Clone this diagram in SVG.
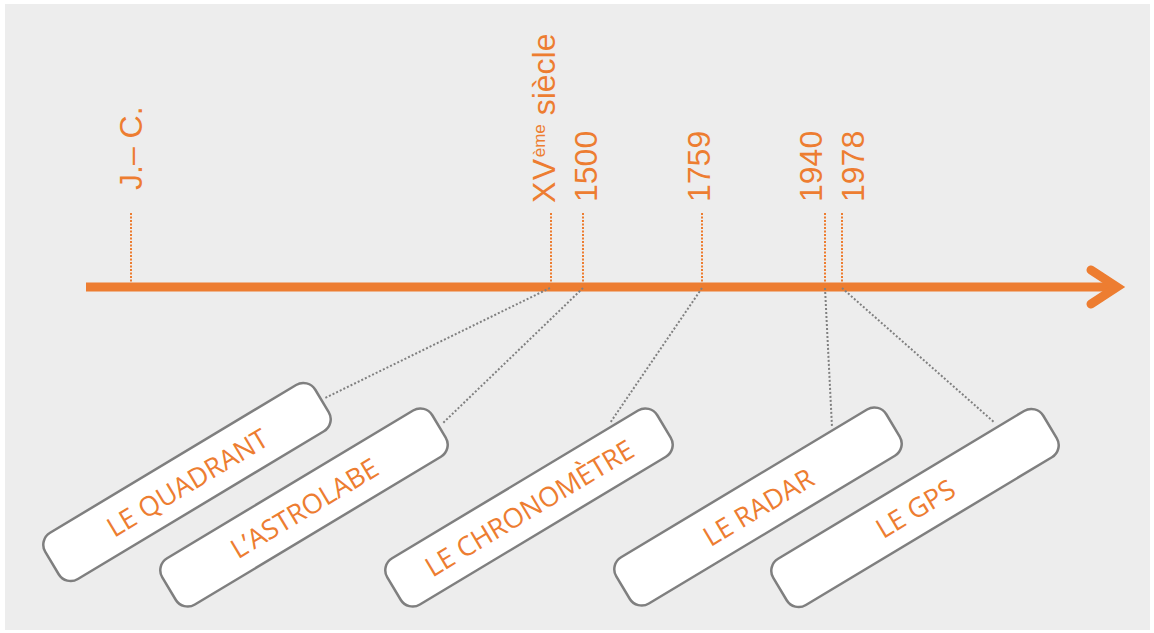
<svg xmlns="http://www.w3.org/2000/svg" width="1154" height="633" viewBox="0 0 1154 633">
<style>
.lbl{font-family:"Liberation Sans",Arial,sans-serif;font-size:32px;fill:#ED7D31}
.tick{stroke:#ED7D31;stroke-width:2;stroke-dasharray:2 1.5;fill:none}
.conn{stroke:#808080;stroke-width:2;stroke-dasharray:2 2;fill:none}
.box{fill:#FFFFFF;stroke:#7F7F7F;stroke-width:2.5}
.bt{font-family:"Open Sans","Noto Sans",sans-serif;font-size:27px;fill:#ED7D31;text-anchor:middle;dominant-baseline:central}
</style>
<rect x="5" y="4" width="1145" height="626" fill="#EDEDED"/>
<g id="axis">
<line x1="86" y1="287" x2="1112" y2="287" stroke="#ED7D31" stroke-width="9"/>
<polyline points="1091,270 1117,287 1091,304" fill="none" stroke="#ED7D31" stroke-width="9" stroke-linecap="round" stroke-linejoin="miter"/>
</g>
<g id="ticks">
<line class="tick" x1="131" y1="213" x2="131" y2="285"/>
<line class="tick" x1="551" y1="213" x2="551" y2="285"/>
<line class="tick" x1="583" y1="213" x2="583" y2="285"/>
<line class="tick" x1="702" y1="213" x2="702" y2="285"/>
<line class="tick" x1="825" y1="213" x2="825" y2="285"/>
<line class="tick" x1="842" y1="213" x2="842" y2="285"/>
</g>
<g id="dates">
<text class="lbl" transform="translate(142,190) rotate(-90)">J.– C.</text>
<text class="lbl" transform="translate(555,203) rotate(-90)"><tspan letter-spacing="1.5">XV</tspan><tspan font-size="17" dy="-10">ème</tspan><tspan dy="10"> siècle</tspan></text>
<text class="lbl" transform="translate(597,202) rotate(-90)">1500</text>
<text class="lbl" transform="translate(710,202) rotate(-90)">1759</text>
<text class="lbl" transform="translate(822,202) rotate(-90)">1940</text>
<text class="lbl" transform="translate(864,202) rotate(-90)">1978</text>
</g>
<g id="connectors">
<line class="conn" x1="550" y1="288" x2="325" y2="398"/>
<line class="conn" x1="583" y1="288" x2="443" y2="423"/>
<line class="conn" x1="702" y1="288" x2="610" y2="423"/>
<line class="conn" x1="825" y1="288" x2="832" y2="427"/>
<line class="conn" x1="842" y1="288" x2="995" y2="423"/>
</g>
<g id="quadrant" transform="translate(187,482) rotate(-31)">
<rect class="box" x="-157.5" y="-27" width="315" height="54" rx="14"/>
<text class="bt" x="0" y="0">LE QUADRANT</text>
</g>
<g id="astrolabe" transform="translate(304,507.5) rotate(-31)">
<rect class="box" x="-157.5" y="-27" width="315" height="54" rx="14"/>
<text class="bt" x="0" y="0">L’ASTROLABE</text>
</g>
<g id="chronometre" transform="translate(529,507.5) rotate(-31)">
<rect class="box" x="-157.5" y="-27" width="315" height="54" rx="14"/>
<text class="bt" x="0" y="0">LE CHRONOMÈTRE</text>
</g>
<g id="radar" transform="translate(758,506.5) rotate(-31)">
<rect class="box" x="-157.5" y="-27" width="315" height="54" rx="14"/>
<text class="bt" x="0" y="0">LE RADAR</text>
</g>
<g id="gps" transform="translate(915,508) rotate(-31)">
<rect class="box" x="-157.5" y="-27" width="315" height="54" rx="14"/>
<text class="bt" x="0" y="0">LE GPS</text>
</g>
</svg>
